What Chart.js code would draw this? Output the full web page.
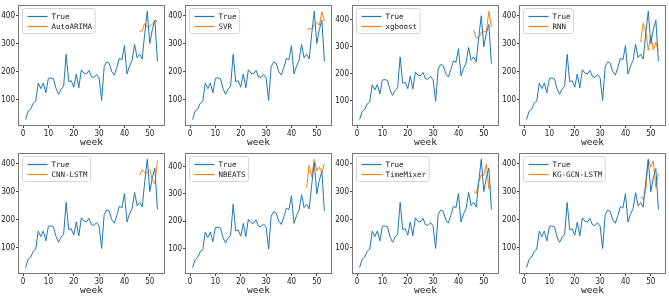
<!DOCTYPE html>
<html>
<head>
<meta charset="utf-8">
<script src="https://cdn.jsdelivr.net/npm/chart.js@4.4.1/dist/chart.umd.min.js"></script>
<style>
  html, body { margin: 0; padding: 0; background: #fff; }
  #wrap { position: relative; width: 669px; height: 300px; overflow: hidden; }
  .panel { position: absolute; width: 167px; height: 150px; }
</style>
</head>
<body>
<div id="wrap"></div>
<script>
/* ---------------- DATA ---------------- */
const weeks = [1,2,3,4,5,6,7,8,9,10,11,12,13,14,15,16,17,18,19,20,21,22,23,24,25,26,27,
  28,29,30,31,32,33,34,35,36,37,38,39,40,41,42,43,44,45,46,47,48,49,50,51,52,53];
const trueValues = [30,60,67,88,95,160,140,160,125,177,178,175,140,120,138,148,262,165,168,145,
  192,143,207,195,192,205,182,180,190,178,98,218,235,230,200,188,215,248,242,293,192,220,240,297,
  250,262,245,335,415,300,350,383,237];
const predWeeks = [46,47,48,49,50,51,52,53];

const modelNames = ["AutoARIMA","SVR","xgboost","RNN","CNN-LSTM","NBEATS","TimeMixer","KG-GCN-LSTM"];
const autoArima = [343,345,372,358,362,368,383,376];
const svr       = [352,352,353,368,376,365,413,380];
const xgboost   = [362,332,334,353,356,356,432,372];
const rnn       = [305,373,345,276,330,278,305,272];
const cnnLstm   = [357,378,368,365,378,342,328,410];
const nbeats    = [322,405,362,427,385,398,378,410];
const timeMixer = [300,294,335,360,358,398,310,322];
const kgGcnLstm = [285,272,305,416,388,410,315,367];
const predictions = [autoArima, svr, xgboost, rnn, cnnLstm, nbeats, timeMixer, kgGcnLstm];

const xTicks = [0,10,20,30,40,50];
const yTicks = [100,200,300,400];

/* ---------------- STYLE ---------------- */
const BLUE = "#1f77b4";
const ORANGE = "#ff7f0e";
const tickFont = { family: "'Liberation Sans Narrow', 'DejaVu Sans Condensed', 'DejaVu Sans'", size: 8 };
const monoFont = "'DejaVu Sans Mono', 'Liberation Mono', monospace";

/* frame round the plot area */
const framePlugin = {
  id: "frame",
  afterDraw(chart) {
    const a = chart.chartArea, ctx = chart.ctx;
    ctx.save();
    ctx.strokeStyle = "#777";
    ctx.lineWidth = 1;
    ctx.strokeRect(Math.round(a.left) - 0.5, Math.round(a.top) - 0.5,
      Math.round(a.right - a.left) + 1, Math.round(a.bottom - a.top) + 1);
    ctx.restore();
  }
};

/* legend drawn inside, upper left */
const innerLegend = {
  id: "innerLegend",
  afterDraw(chart) {
    const a = chart.chartArea, ctx = chart.ctx;
    const sets = chart.data.datasets;
    ctx.save();
    ctx.font = "7.5px " + monoFont;
    let w = 0;
    sets.forEach(s => { w = Math.max(w, ctx.measureText(s.label).width); });
    const x0 = Math.round(a.left) + 3.5, y0 = Math.round(a.top) + 2.5;
    const bw = 29 + w + 3, bh = 25;
    ctx.beginPath();
    ctx.roundRect(x0, y0, bw, bh, 2);
    ctx.fillStyle = "rgba(255,255,255,0.85)";
    ctx.fill();
    ctx.strokeStyle = "#d5d5d5";
    ctx.lineWidth = 1;
    ctx.stroke();
    sets.forEach((s, i) => {
      const cy = y0 + 8 + i * 10;
      ctx.beginPath();
      ctx.moveTo(x0 + 5, cy);
      ctx.lineTo(x0 + 25, cy);
      ctx.strokeStyle = s.borderColor;
      ctx.lineWidth = 1.2;
      ctx.stroke();
      ctx.fillStyle = "#222";
      ctx.textBaseline = "middle";
      ctx.fillText(s.label, x0 + 29, cy + 0.5);
    });
    ctx.restore();
  }
};

/* ---------------- BUILD PANELS ---------------- */
const wrap = document.getElementById("wrap");

modelNames.forEach((name, k) => {
  const col = k % 4, row = Math.floor(k / 4);
  const div = document.createElement("div");
  div.className = "panel";
  div.style.left = (col * 167) + "px";
  div.style.top = (row * 148) + "px";
  const cv = document.createElement("canvas");
  div.appendChild(cv);
  wrap.appendChild(div);

  const pred = predictions[k];
  const all = trueValues.concat(pred);
  const lo = Math.min(...all), hi = Math.max(...all);
  const pad = (hi - lo) * 0.05;
  const xPad = (weeks[weeks.length - 1] - weeks[0]) * 0.05;

  new Chart(cv, {
    type: "line",
    data: {
      datasets: [
        {
          label: "True",
          data: weeks.map((w, i) => ({ x: w, y: trueValues[i] })),
          borderColor: BLUE, borderWidth: 1, pointRadius: 0, tension: 0
        },
        {
          label: name,
          data: predWeeks.map((w, i) => ({ x: w, y: pred[i] })),
          borderColor: ORANGE, borderWidth: 1, pointRadius: 0, tension: 0
        }
      ]
    },
    options: {
      responsive: true,
      maintainAspectRatio: false,
      animation: false,
      layout: { padding: { top: 4, right: 3, left: 0, bottom: 0 } },
      plugins: { legend: { display: false }, tooltip: { enabled: false } },
      scales: {
        x: {
          type: "linear",
          min: weeks[0] - xPad,
          max: weeks[weeks.length - 1] + xPad,
          afterFit: s => { s.height = 25; },
          afterBuildTicks: s => { s.ticks = xTicks.map(v => ({ value: v })); },
          grid: { drawOnChartArea: false, tickLength: 3, color: "#444" },
          border: { display: false },
          ticks: { font: tickFont, color: "#222", padding: 1, maxRotation: 0 },
          title: { display: true, text: "week", font: { family: monoFont, size: 9.5 }, color: "#222",
                   padding: { top: 0, bottom: 2 } }
        },
        y: {
          min: lo - pad,
          max: hi + pad,
          afterFit: s => { s.width = 19; },
          afterBuildTicks: s => { s.ticks = yTicks.map(v => ({ value: v })); },
          grid: { drawOnChartArea: false, tickLength: 3, color: "#444" },
          border: { display: false },
          ticks: { font: tickFont, color: "#222", padding: 1 }
        }
      }
    },
    plugins: [framePlugin, innerLegend]
  });
});
</script>
</body>
</html>
